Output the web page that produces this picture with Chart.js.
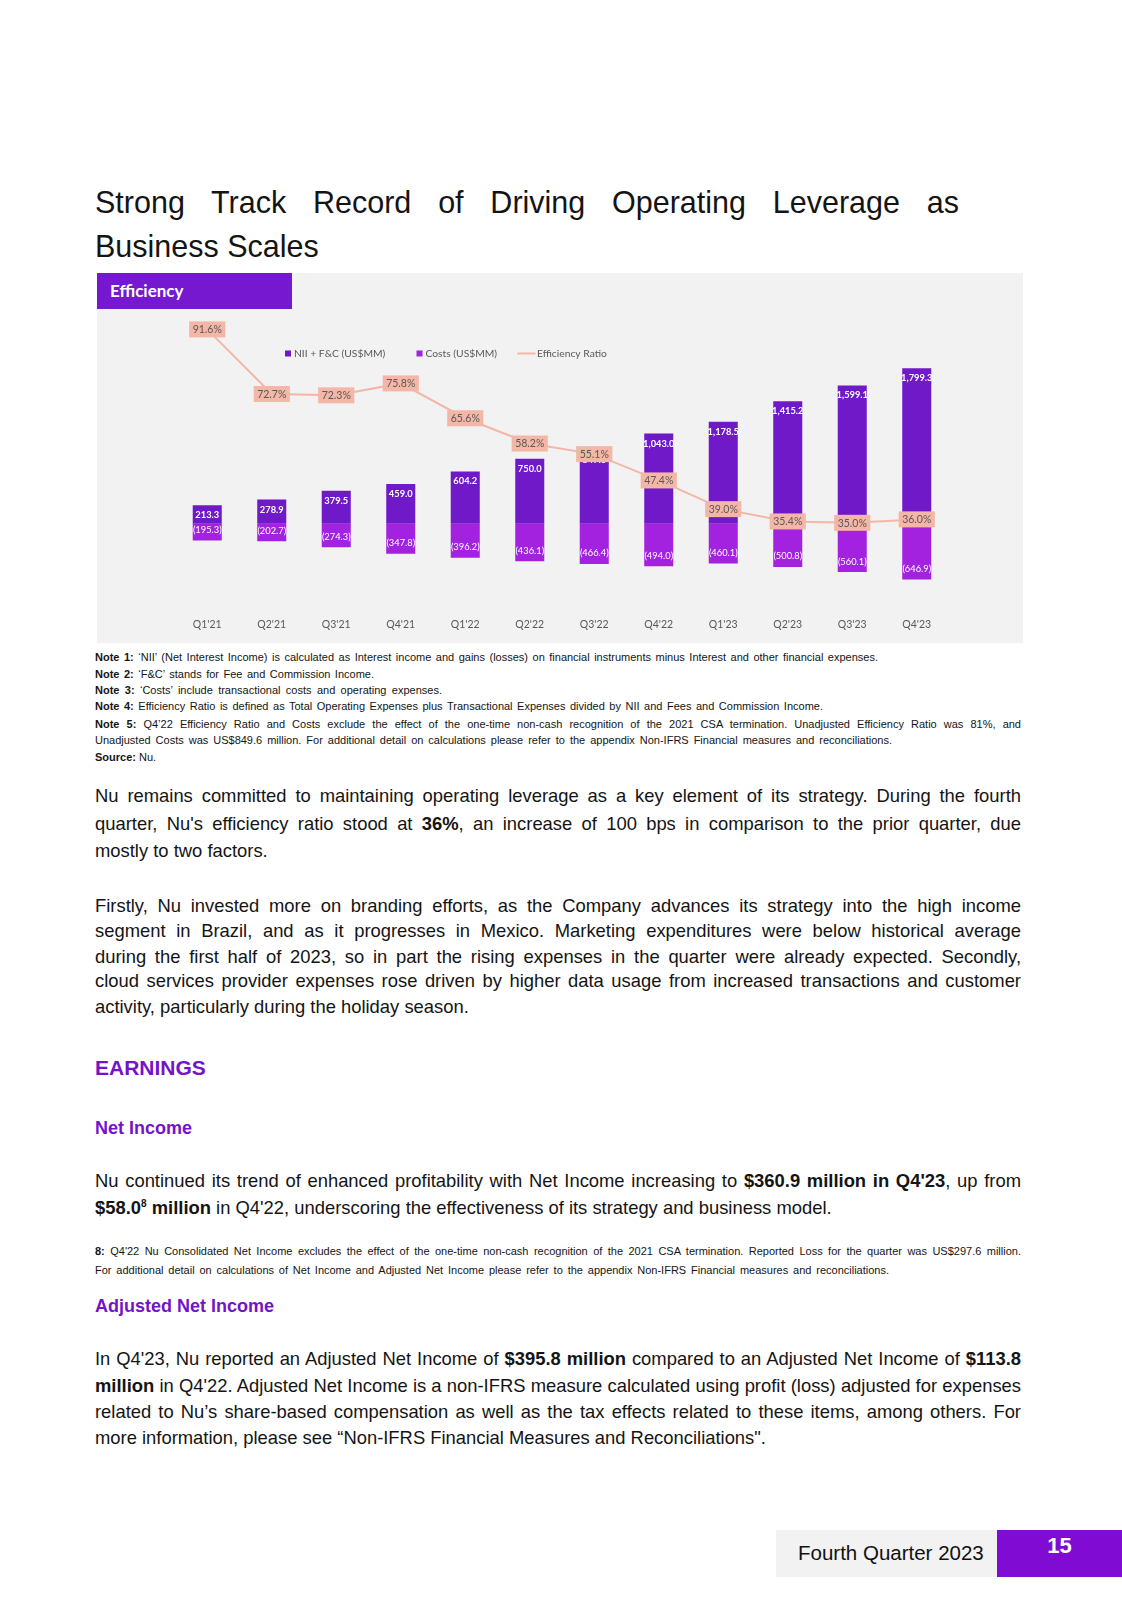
<!DOCTYPE html>
<html>
<head>
<meta charset="utf-8">
<script src="https://cdn.jsdelivr.net/npm/chart.js@4.4.1/dist/chart.umd.min.js"></script>
<style>
html,body{margin:0;padding:0;background:#fff;}
body{width:1122px;height:1598px;position:relative;overflow:hidden;font-family:"Liberation Sans",Arial,Helvetica,sans-serif;color:#111;}
.t{position:absolute;left:95px;white-space:nowrap;}
.ttl{font-size:30.5px;line-height:34px;color:#141414;}
.p{font-size:18.4px;line-height:22px;color:#141414;}
.n{font-size:11px;line-height:14px;color:#141414;}
.h1{font-size:21px;line-height:26px;font-weight:bold;color:#7413c8;}
.h2{font-size:18px;line-height:22px;font-weight:bold;color:#7413c8;}
b{font-weight:bold;}
sup{font-size:10px;line-height:0;vertical-align:7px;}
#panel{position:absolute;left:97px;top:273px;width:926px;height:370px;background:#f2f2f2;}
#cwrap{position:absolute;left:97px;top:273px;width:926px;height:391px;}
#cwrap canvas{position:absolute;left:0;top:0;}
#hdr{position:absolute;left:97px;top:273px;width:195px;height:36px;background:#7518cf;color:#fff;font-family:Lato,sans-serif;font-weight:bold;font-size:17px;line-height:35px;box-sizing:border-box;padding-left:13px;}
#fg{position:absolute;left:776px;top:1530px;width:221px;height:47px;background:#f2f2f2;}
#fp{position:absolute;left:997px;top:1530px;width:125px;height:47px;background:#800bd2;}
#ftxt{position:absolute;left:798px;top:1541px;font-size:20.5px;line-height:24px;color:#111;white-space:nowrap;}
#fnum{position:absolute;left:997px;width:125px;text-align:center;top:1533px;font-size:22px;line-height:26px;font-weight:bold;color:#fff;}
</style>
</head>
<body>

<div class="t ttl" style="top:185px" data-w="864">Strong Track Record of Driving Operating Leverage as</div>
<div class="t ttl" style="top:228.6px">Business Scales</div>

<div id="panel"></div>

<div class="t n" style="top:650.3px" data-w="783"><b>Note 1:</b> ‘NII’ (Net Interest Income) is calculated as Interest income and gains (losses) on financial instruments minus Interest and other financial expenses.</div>
<div class="t n" style="top:666.6px" data-w="279"><b>Note 2:</b> ‘F&amp;C’ stands for Fee and Commission Income.</div>
<div class="t n" style="top:682.9px" data-w="347"><b>Note 3:</b> ‘Costs’ include transactional costs and operating expenses.</div>
<div class="t n" style="top:699.2px" data-w="728"><b>Note 4:</b> Efficiency Ratio is defined as Total Operating Expenses plus Transactional Expenses divided by NII and Fees and Commission Income.</div>
<div class="t n" style="top:716.5px" data-w="926"><b>Note 5:</b> Q4’22 Efficiency Ratio and Costs exclude the effect of the one-time non-cash recognition of the 2021 CSA termination. Unadjusted Efficiency Ratio was 81%, and</div>
<div class="t n" style="top:732.8px" data-w="797">Unadjusted Costs was US$849.6 million. For additional detail on calculations please refer to the appendix Non-IFRS Financial measures and reconciliations.</div>
<div class="t n" style="top:750.1px"><b>Source:</b> Nu.</div>

<div id="cwrap"><canvas id="c" width="926" height="391"></canvas></div>
<div id="hdr">Efficiency</div>

<div class="t p" style="top:785px" data-w="926">Nu remains committed to maintaining operating leverage as a key element of its strategy. During the fourth</div>
<div class="t p" style="top:812.5px" data-w="926">quarter, Nu's efficiency ratio stood at <b>36%</b>, an increase of 100 bps in comparison to the prior quarter, due</div>
<div class="t p" style="top:840px">mostly to two factors.</div>

<div class="t p" style="top:895px" data-w="926">Firstly, Nu invested more on branding efforts, as the Company advances its strategy into the high income</div>
<div class="t p" style="top:920.4px" data-w="926">segment in Brazil, and as it progresses in Mexico. Marketing expenditures were below historical average</div>
<div class="t p" style="top:945.8px" data-w="926">during the first half of 2023, so in part the rising expenses in the quarter were already expected. Secondly,</div>
<div class="t p" style="top:970.3px" data-w="926">cloud services provider expenses rose driven by higher data usage from increased transactions and customer</div>
<div class="t p" style="top:995.8px">activity, particularly during the holiday season.</div>

<div class="t h1" style="top:1055px">EARNINGS</div>
<div class="t h2" style="top:1117px">Net Income</div>

<div class="t p" style="top:1170px" data-w="926">Nu continued its trend of enhanced profitability with Net Income increasing to <b>$360.9 million in Q4'23</b>, up from</div>
<div class="t p" style="top:1196.5px"><b>$58.0<sup>8</sup> million</b> in Q4'22, underscoring the effectiveness of its strategy and business model.</div>

<div class="t n" style="top:1244.3px" data-w="926"><b>8:</b> Q4'22 Nu Consolidated Net Income excludes the effect of the one-time non-cash recognition of the 2021 CSA termination. Reported Loss for the quarter was US$297.6 million.</div>
<div class="t n" style="top:1262.7px" data-w="794">For additional detail on calculations of Net Income and Adjusted Net Income please refer to the appendix Non-IFRS Financial measures and reconciliations.</div>

<div class="t h2" style="top:1295.4px">Adjusted Net Income</div>

<div class="t p" style="top:1348.3px" data-w="926">In Q4'23, Nu reported an Adjusted Net Income of <b>$395.8 million</b> compared to an Adjusted Net Income of <b>$113.8</b></div>
<div class="t p" style="top:1374.8px" data-w="926"><b>million</b> in Q4'22. Adjusted Net Income is a non-IFRS measure calculated using profit (loss) adjusted for expenses</div>
<div class="t p" style="top:1401.3px" data-w="926">related to Nu’s share-based compensation as well as the tax effects related to these items, among others. For</div>
<div class="t p" style="top:1426.8px">more information, please see “Non-IFRS Financial Measures and Reconciliations".</div>

<div id="fg"></div>
<div id="fp"></div>
<div id="ftxt">Fourth Quarter 2023</div>
<div id="fnum">15</div>

<script>
// ---- data ----
const categories = ["Q1'21","Q2'21","Q3'21","Q4'21","Q1'22","Q2'22","Q3'22","Q4'22","Q1'23","Q2'23","Q3'23","Q4'23"];
const niiFc = [213.3, 278.9, 379.5, 459.0, 604.2, 750.0, 847.0, 1043.0, 1178.5, 1415.2, 1599.1, 1799.3];
const costs = [-195.3, -202.7, -274.3, -347.8, -396.2, -436.1, -466.4, -494.0, -460.1, -500.8, -560.1, -646.9];
const efficiencyRatio = [91.6, 72.7, 72.3, 75.8, 65.6, 58.2, 55.1, 47.4, 39.0, 35.4, 35.0, 36.0];
const seriesNames = ["NII + F&C (US$MM)", "Costs (US$MM)", "Efficiency Ratio"];

// ---- justify lines to measured widths ----
function fitLines(){
  document.querySelectorAll('[data-w]').forEach(el=>{
    el.style.wordSpacing='0px';
    const target=+el.dataset.w;
    const w=el.getBoundingClientRect().width;
    const spaces=(el.textContent.match(/ /g)||[]).length;
    if(spaces) el.style.wordSpacing=((target-w)/spaces)+'px';
  });
}
fitLines();
if(document.fonts && document.fonts.ready) document.fonts.ready.then(fitLines);

const C_NII='#7019c8', C_COST='#a222df', C_LINE='#f4b6a6', C_TXT='#595959';

const fmt = v => Math.abs(v).toLocaleString('en-US',{minimumFractionDigits:1,maximumFractionDigits:1});

const valueLabels = {
  id:'valueLabels',
  afterDatasetsDraw(chart){
    const ctx=chart.ctx;
    ctx.save();
    ctx.textAlign='center';
    ctx.textBaseline='middle';
    const mN=chart.getDatasetMeta(0), mC=chart.getDatasetMeta(1), mL=chart.getDatasetMeta(2);
    ctx.fillStyle='#ffffff';
    ctx.font='bold 9.3px Lato';
    mN.data.forEach((el,i)=>{ ctx.fillText(fmt(niiFc[i]), el.x, el.y+10); });
    ctx.font='9.3px Lato';
    mC.data.forEach((el,i)=>{ ctx.fillText('('+fmt(costs[i])+')', el.x, el.y-10.5); });
    ctx.font='10.5px Lato';
    mL.data.forEach((el,i)=>{
      const s=efficiencyRatio[i].toFixed(1)+'%';
      const tw=ctx.measureText(s).width;
      const bw=tw+7, bh=16;
      ctx.fillStyle=C_LINE;
      ctx.fillRect(el.x-bw/2, el.y-bh/2, bw, bh);
      ctx.fillStyle=C_TXT;
      ctx.fillText(s, el.x, el.y+0.5);
    });
    ctx.restore();
  }
};

const customLegend = {
  id:'customLegend',
  afterDraw(chart){
    const ctx=chart.ctx;
    const y=80.5;
    const xs=[188,319.5,420.5];
    ctx.save();
    ctx.font='10.3px Lato';
    ctx.textBaseline='middle';
    ctx.textAlign='left';
    chart.data.datasets.forEach((ds,i)=>{
      const x=xs[i];
      let tx;
      if(ds.type==='line'){
        ctx.strokeStyle=ds.borderColor; ctx.lineWidth=2;
        ctx.beginPath(); ctx.moveTo(x,y); ctx.lineTo(x+18,y); ctx.stroke();
        tx=x+19.5;
      } else {
        ctx.fillStyle=ds.backgroundColor;
        ctx.fillRect(x,y-3,6,6);
        tx=x+9;
      }
      ctx.fillStyle=C_TXT;
      ctx.fillText(ds.label,tx,y);
    });
    ctx.restore();
  }
};

new Chart(document.getElementById('c'),{
  data:{
    labels:categories,
    datasets:[
      {type:'bar',label:seriesNames[0],data:niiFc,backgroundColor:C_NII,stack:'s',yAxisID:'y',order:1,barPercentage:0.45,categoryPercentage:1},
      {type:'bar',label:seriesNames[1],data:costs,backgroundColor:C_COST,stack:'s',yAxisID:'y',order:1,barPercentage:0.45,categoryPercentage:1},
      {type:'line',label:seriesNames[2],data:efficiencyRatio,borderColor:C_LINE,backgroundColor:C_LINE,borderWidth:2,pointRadius:0,tension:0,yAxisID:'y1',order:0}
    ]
  },
  options:{
    responsive:false,
    animation:false,
    devicePixelRatio:1,
    layout:{padding:{left:78,right:74,top:26,bottom:16}},
    plugins:{legend:{display:false},tooltip:{enabled:false}},
    scales:{
      x:{stacked:true,grid:{display:false,drawTicks:false},border:{display:false},
         ticks:{color:C_TXT,font:{family:'Lato',size:10.5},padding:17,maxRotation:0}},
      y:{display:false,stacked:true,min:-900,max:2600},
      y1:{display:false,min:12,max:100.5}
    }
  },
  plugins:[valueLabels,customLegend]
});
</script>
</body>
</html>
